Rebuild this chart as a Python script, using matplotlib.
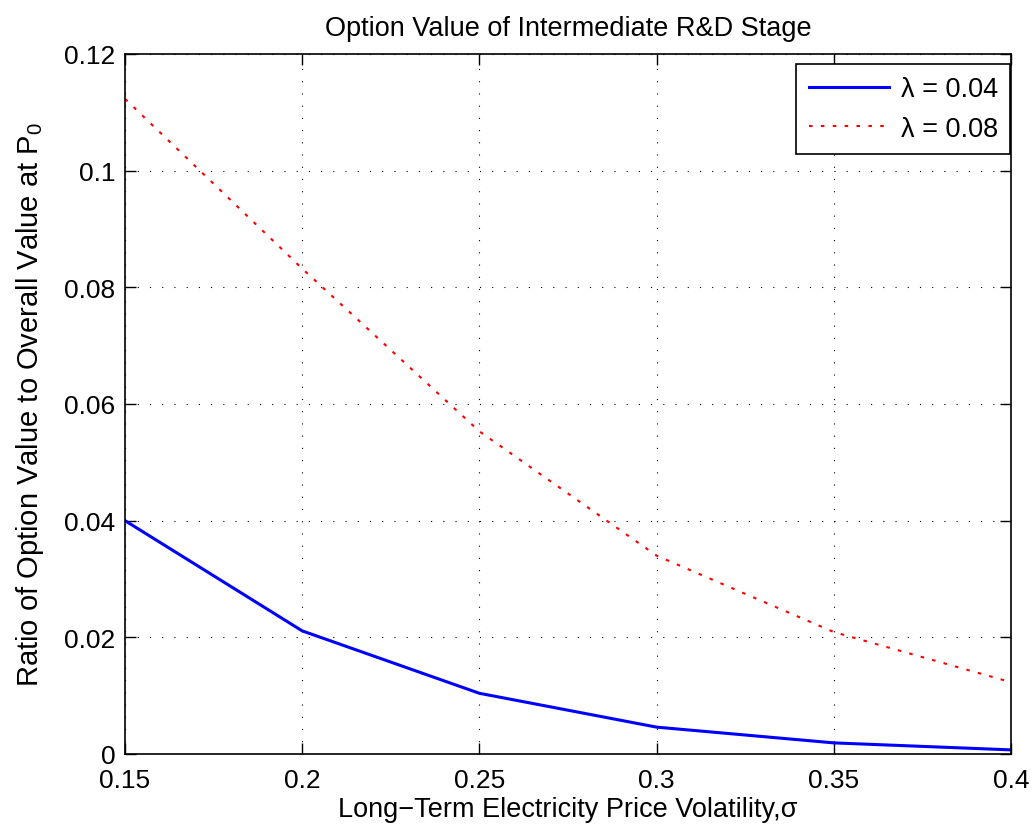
import matplotlib
matplotlib.use("Agg")
import matplotlib.pyplot as plt

plt.rcParams['font.family'] = ['Liberation Sans', 'DejaVu Sans']
plt.rcParams['mathtext.fontset'] = 'custom'
plt.rcParams['mathtext.rm'] = 'Liberation Sans'
plt.rcParams['mathtext.it'] = 'Liberation Sans'

sigma = [0.15, 0.20, 0.25, 0.30, 0.35, 0.40]
ratio_l004 = [0.0400, 0.0211, 0.0104, 0.0046, 0.0019, 0.0007]
ratio_l008 = [0.1123, 0.0832, 0.0553, 0.0340, 0.0209, 0.0123]
labels = ["λ = 0.04", "λ = 0.08"]
xticks = [0.15, 0.2, 0.25, 0.3, 0.35, 0.4]
xtick_labels = ["0.15", "0.2", "0.25", "0.3", "0.35", "0.4"]
yticks = [0, 0.02, 0.04, 0.06, 0.08, 0.1, 0.12]
ytick_labels = ["0", "0.02", "0.04", "0.06", "0.08", "0.1", "0.12"]

fig = plt.figure(figsize=(10.34, 8.28), dpi=100)
ax = fig.add_axes([0.1209, 0.0882, 0.8569, 0.8454])

ax.plot(sigma, ratio_l004, color='#0000ff', lw=2.2, label=labels[0])
ax.plot(sigma, ratio_l008, color='#ff0000', lw=1.5, linestyle=(0, (1.7, 4.0)),
        label=labels[1])

ax.set_xlim(0.15, 0.4)
ax.set_ylim(0, 0.12)
ax.set_xticks(xticks)
ax.set_xticklabels(xtick_labels)
ax.set_yticks(yticks)
ax.set_yticklabels(ytick_labels)

ax.tick_params(direction='in', top=True, right=True, length=8, width=1,
               labelsize=19)
ax.tick_params(axis='x', pad=10)
ax.tick_params(axis='y', pad=7)
for s in ax.spines.values():
    s.set_linewidth(1.2)
ax.grid(True, color='black', linestyle=(0, (1, 10)), linewidth=0.8)

ax.set_title("Option Value of Intermediate R&D Stage", fontsize=19.5, pad=14)
ax.set_xlabel("Long\u2212Term Electricity Price Volatility,σ", fontsize=19.5, labelpad=3)
ax.set_ylabel("Ratio of Option Value to Overall Value at P$_0$", fontsize=21, labelpad=13)

leg = ax.legend(loc='upper right', fontsize=19.5, fancybox=False, framealpha=1,
                edgecolor='black', borderpad=0.45, handlelength=2.95,
                handletextpad=0.45, labelspacing=0.5, borderaxespad=0,
                bbox_to_anchor=(0.9989, 0.9857))
leg.get_frame().set_linewidth(1.2)

fig.savefig("out.png", dpi=100)
